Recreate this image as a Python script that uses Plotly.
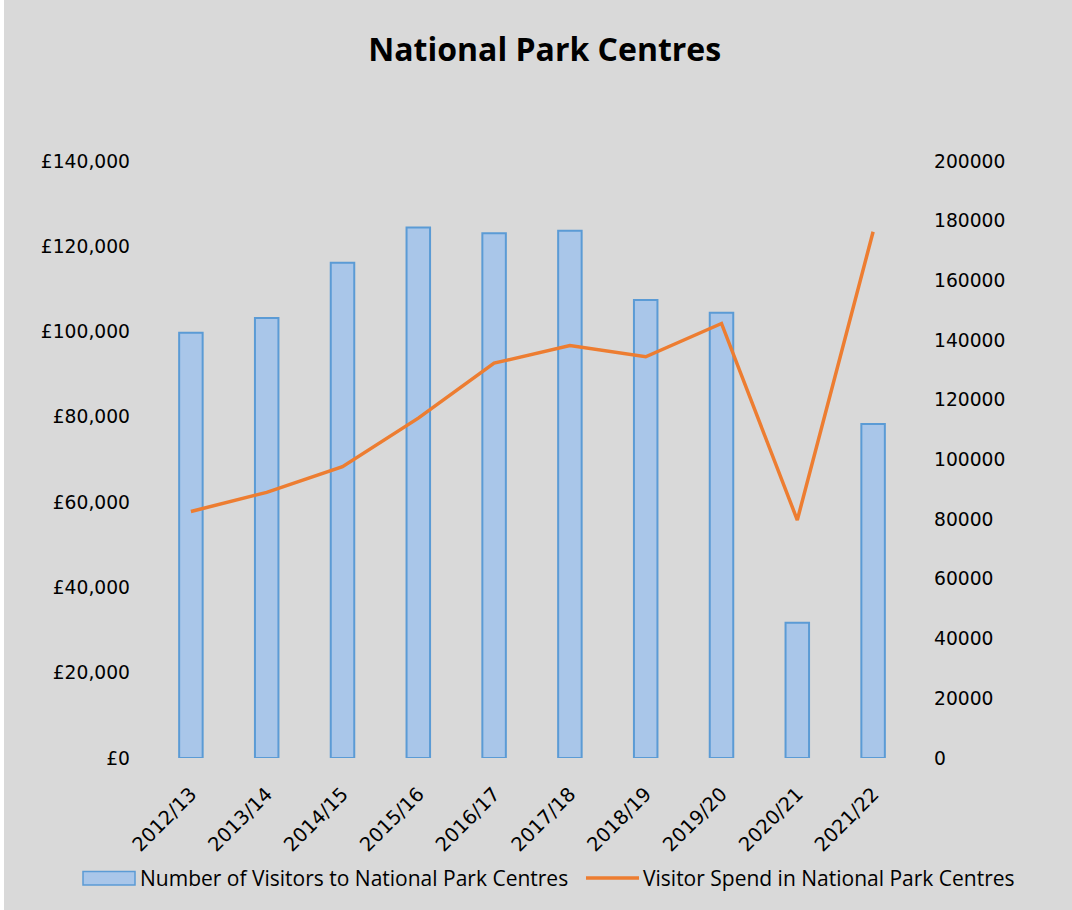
import plotly.graph_objects as go

# ---- data -------------------------------------------------------------
years = ["2012/13", "2013/14", "2014/15", "2015/16", "2016/17",
         "2017/18", "2018/19", "2019/20", "2020/21", "2021/22"]
visitors = [142500, 147400, 165900, 177700, 175800,
            176600, 153400, 149200, 45300, 111900]
spend = [57800, 62300, 68300, 79700, 92600,
         96700, 94100, 101900, 55800, 123400]

spend_ticks = list(range(0, 140001, 20000))
spend_labels = [f"£{v:,}" for v in spend_ticks]
visitor_ticks = list(range(0, 200001, 20000))
visitor_labels = [str(v) for v in visitor_ticks]

bar_name = "Number of Visitors to National Park Centres"
line_name = "Visitor Spend in National Park Centres"

# ---- styling ----------------------------------------------------------
W, H = 1072, 910
ML, MR, MT, MB = 153, 161, 161, 152
PW, PH = W - ML - MR, H - MT - MB

BG = "#d9d9d9"
BAR_FILL = "#a9c6e9"
BAR_EDGE = "#5b9bd5"
LINE = "#ed7d31"
Y_TICK_FONT = dict(family="DejaVu Sans", size=18.7, color="#000000")
X_TICK_FONT = dict(family="DejaVu Sans", size=19.5, color="#000000")


def px_x(px):
    return (px - ML) / PW


def px_y(py):
    return (H - MB - py) / PH


fig = go.Figure()

fig.add_trace(go.Bar(
    x=years, y=visitors, name=bar_name, yaxis="y",
    width=0.31,
    marker=dict(color=BAR_FILL, line=dict(color=BAR_EDGE, width=2)),
    showlegend=False,
))

fig.add_trace(go.Scatter(
    x=years, y=spend, name=line_name, yaxis="y2",
    mode="lines", line=dict(color=LINE, width=3.5),
    showlegend=False,
))

# ---- legend drawn below the plot -------------------------------------
leg_y = 878
shapes = [
    # thin white strip along the left edge of the canvas
    dict(type="rect", xref="paper", yref="paper",
         x0=px_x(0), x1=px_x(4), y0=px_y(H), y1=px_y(0),
         fillcolor="#ffffff", line=dict(width=0), layer="below"),
    dict(type="rect", xref="paper", yref="paper",
         x0=px_x(83), x1=px_x(135), y0=px_y(885), y1=px_y(871.5),
         fillcolor=BAR_FILL, line=dict(color=BAR_EDGE, width=1.5)),
    dict(type="line", xref="paper", yref="paper",
         x0=px_x(586), x1=px_x(639), y0=px_y(leg_y), y1=px_y(leg_y),
         line=dict(color=LINE, width=3.5)),
]
annotations = [
    dict(text=bar_name, xref="paper", yref="paper",
         x=px_x(138), y=px_y(leg_y), xanchor="left", yanchor="middle",
         showarrow=False, font=dict(family="Open Sans", size=21, color="#000000")),
    dict(text=line_name, xref="paper", yref="paper",
         x=px_x(641), y=px_y(leg_y), xanchor="left", yanchor="middle",
         showarrow=False, font=dict(family="Open Sans", size=21, color="#000000")),
]

fig.update_layout(
    width=W, height=H,
    margin=dict(l=ML, r=MR, t=MT, b=MB, pad=0),
    paper_bgcolor=BG, plot_bgcolor=BG,
    title=dict(text="<b>National Park Centres</b>",
               x=544.7 / W, xref="container", xanchor="center",
               y=1 - 50 / H, yref="container", yanchor="middle",
               font=dict(family="Open Sans", size=32, color="#000000")),
    xaxis=dict(type="category", range=[-0.5, 9.5], tickangle=-45,
               showgrid=False, showline=False, zeroline=False,
               ticks="outside", ticklen=16, tickcolor="rgba(0,0,0,0)",
               tickfont=X_TICK_FONT, fixedrange=True),
    yaxis=dict(side="right", range=[0, 200000], tickmode="array",
               tickvals=visitor_ticks, ticktext=visitor_labels,
               showgrid=False, zeroline=False, showline=False,
               ticks="", ticklabelstandoff=22, tickfont=Y_TICK_FONT),
    yaxis2=dict(side="left", overlaying="y", range=[0, 140000],
                tickmode="array", tickvals=spend_ticks, ticktext=spend_labels,
                showgrid=False, zeroline=False, showline=False, ticks="",
                ticklabelstandoff=22, tickfont=Y_TICK_FONT),
    shapes=shapes,
    annotations=annotations,
    showlegend=False,
)

fig.write_html("out.html", config={"displayModeBar": False})
